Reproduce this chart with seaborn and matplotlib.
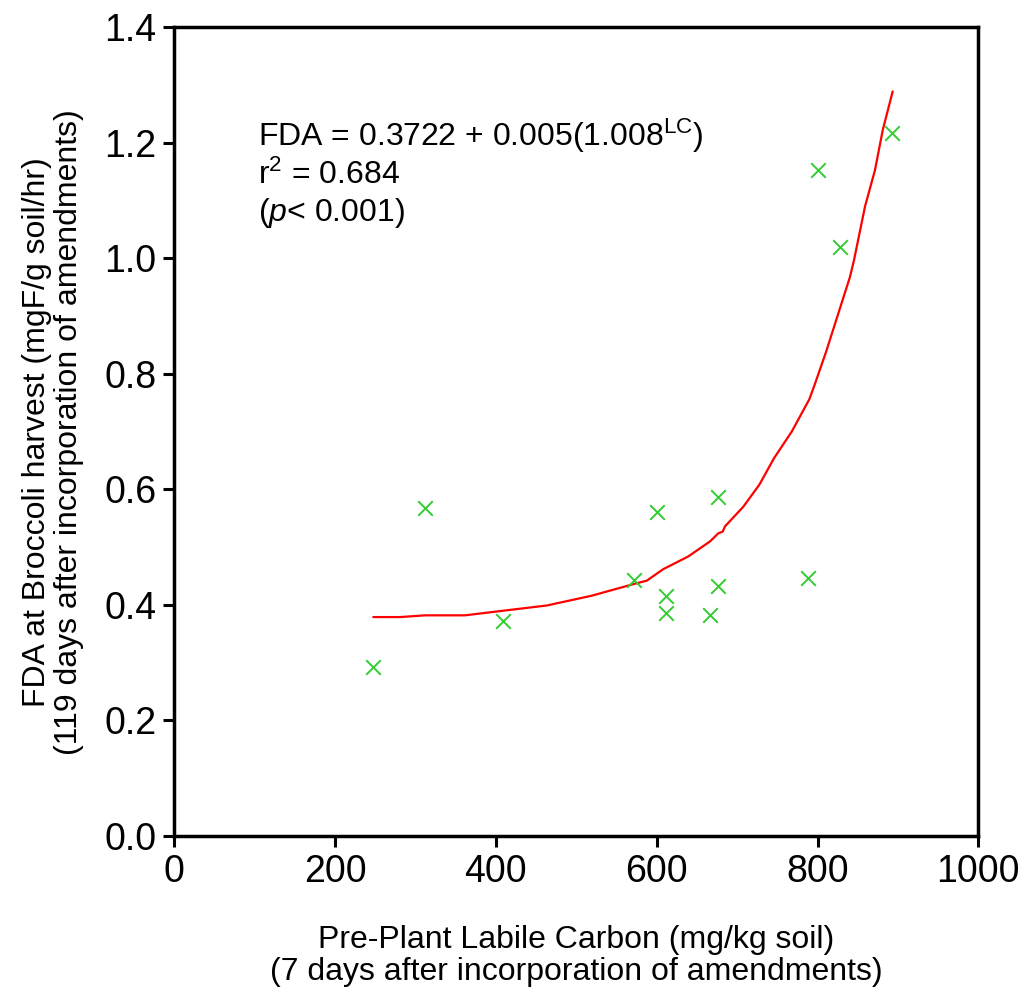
import matplotlib
matplotlib.use("Agg")
import matplotlib.pyplot as plt
import seaborn as sns
import pandas as pd

# Observed data points
labile_carbon = [247, 312, 409, 572, 600, 611, 611, 666, 676, 676, 788, 801, 828, 893]
fda_values = [0.293, 0.568, 0.372, 0.443, 0.561, 0.416, 0.386, 0.383, 0.587, 0.433, 0.447, 1.153, 1.020, 1.217]

# Fitted curve
curve_x = [247.5, 280.7, 311.8, 361.6, 409, 463.2, 519.2, 570.9, 587.6, 608.2, 639.3, 666.3,
           676.6, 682.1, 684.9, 707.7, 727.6, 745.9, 767.9, 789.8, 796.9, 810.6, 840.4,
           845.4, 859.1, 871.5, 881.1, 893.5]
curve_y = [0.379, 0.379, 0.382, 0.382, 0.390, 0.399, 0.416, 0.436, 0.442, 0.462, 0.484, 0.510,
           0.524, 0.527, 0.536, 0.570, 0.608, 0.654, 0.700, 0.756, 0.783, 0.838, 0.968,
           0.997, 1.090, 1.153, 1.222, 1.289]

x_ticks = [0, 200, 400, 600, 800, 1000]
y_ticks = [0.0, 0.2, 0.4, 0.6, 0.8, 1.0, 1.2, 1.4]

annotation_lines = [r"FDA = 0.3722 + 0.005(1.008$^{\mathrm{LC}}$)",
                    r"r$^{2}$ = 0.684",
                    r"($\mathit{p}$< 0.001)"]
x_label = "Pre-Plant Labile Carbon (mg/kg soil)\n(7 days after incorporation of amendments)"
y_label = "FDA at Broccoli harvest (mgF/g soil/hr)\n(119 days after incorporation of amendments)"

sns.set_style("white")
plt.rcParams['font.family'] = ['Liberation Sans', 'DejaVu Sans']
plt.rcParams['mathtext.fontset'] = 'custom'
plt.rcParams['mathtext.rm'] = 'Liberation Sans'
plt.rcParams['mathtext.it'] = 'Liberation Sans:italic'
plt.rcParams['mathtext.bf'] = 'Liberation Sans:bold'
plt.rcParams['text.color'] = 'black'
plt.rcParams['axes.labelcolor'] = 'black'

fig = plt.figure(figsize=(10.27, 9.89), dpi=100)
ax = fig.add_axes([0.1697, 0.1547, 0.9526 - 0.1697, 0.9724 - 0.1547])

pts = pd.DataFrame({"lc": labile_carbon, "fda": fda_values})
crv = pd.DataFrame({"lc": curve_x, "fda": curve_y})

sns.lineplot(data=crv, x="lc", y="fda", sort=False, estimator=None, color="#FF0000",
             linewidth=1.6, ax=ax)
sns.scatterplot(data=pts, x="lc", y="fda", marker="x", color="#33CC33", s=110,
                linewidth=1.4, ax=ax, zorder=3)

ax.set_xlim(0, 1000)
ax.set_ylim(0, 1.4)
ax.set_xticks(x_ticks)
ax.set_xticklabels([str(t) for t in x_ticks])
ax.set_yticks(y_ticks)
ax.set_yticklabels([f"{t:.1f}" for t in y_ticks])
ax.tick_params(axis="both", which="major", direction="out", length=8, width=2.2,
               labelsize=27, colors="black", bottom=True, left=True, top=False, right=False, pad=5)
for sp in ax.spines.values():
    sp.set_visible(True)
    sp.set_color("black")
    sp.set_linewidth(2.5)

ax.set_xlabel(x_label, fontsize=23, linespacing=1.08)
ax.xaxis.set_label_coords(0.5, -0.11)
ax.set_ylabel(y_label, fontsize=23, linespacing=1.08)
ax.yaxis.set_label_coords(-0.112, 0.5)

ax.text(0.104, 0.89, "\n".join(annotation_lines), transform=ax.transAxes, fontsize=23,
        va="top", ha="left", linespacing=1.2)

fig.savefig("out.png", dpi=100)
